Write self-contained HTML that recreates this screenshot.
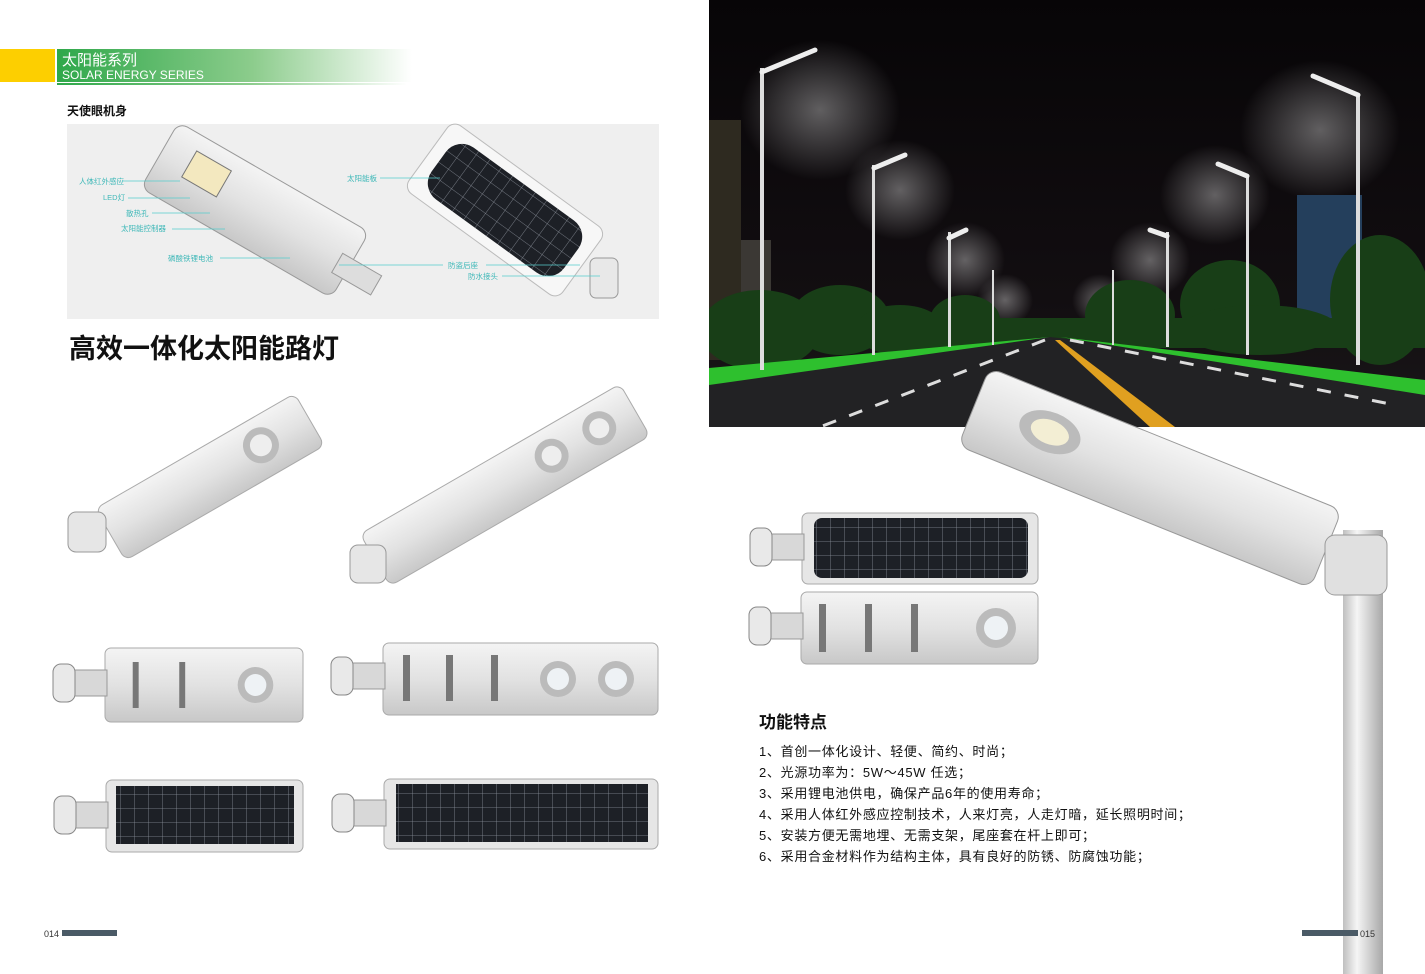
<!DOCTYPE html>
<html><head><meta charset="utf-8"><style>
html,body{margin:0;padding:0;background:#fff;}
svg{display:block;}
text{font-family:"Liberation Sans","Noto Sans CJK SC",sans-serif;}
</style></head><body>
<svg width="1425" height="974" viewBox="0 0 1425 974" xmlns="http://www.w3.org/2000/svg">
<defs>
<clipPath id="photo"><rect x="709" y="0" width="716" height="427"/></clipPath>
<linearGradient id="gh" x1="0" x2="1" y1="0" y2="0">
<stop offset="0" stop-color="#2fa84a"/><stop offset="0.55" stop-color="#8ccc8c"/><stop offset="1" stop-color="#ffffff"/></linearGradient>
<linearGradient id="body" x1="0" x2="0" y1="0" y2="1">
<stop offset="0" stop-color="#f4f4f4"/><stop offset="0.5" stop-color="#e2e2e2"/><stop offset="1" stop-color="#c8c8c8"/></linearGradient>
<linearGradient id="sky" x1="0" x2="0" y1="0" y2="1">
<stop offset="0" stop-color="#070507"/><stop offset="0.7" stop-color="#120e11"/><stop offset="1" stop-color="#1a1719"/></linearGradient>
<linearGradient id="pole" x1="0" x2="1">
<stop offset="0" stop-color="#bfbfbf"/><stop offset="0.35" stop-color="#f5f5f5"/><stop offset="1" stop-color="#a8a8a8"/></linearGradient>
<radialGradient id="glow"><stop offset="0" stop-color="#ffffff" stop-opacity="0.35"/><stop offset="1" stop-color="#ffffff" stop-opacity="0"/></radialGradient>
<pattern id="cells" width="14" height="14" patternUnits="userSpaceOnUse"><rect width="14" height="14" fill="#1d2026"/><path d="M0 0H14M0 0V14" stroke="#8a8f99" stroke-width="0.8"/></pattern>
<g id="flat">
<rect x="0" y="0" width="200" height="74" rx="6" fill="url(#body)" stroke="#aaa"/>
<rect x="28" y="14" width="6" height="46" fill="#777"/><rect x="75" y="14" width="6" height="46" fill="#777"/>
<circle cx="152" cy="37" r="18" fill="#bbb"/><circle cx="152" cy="37" r="11" fill="#eef2f5"/>
</g>
<g id="bracket"><rect x="-42" y="22" width="44" height="26" fill="#d8d8d8" stroke="#999"/><rect x="-52" y="16" width="22" height="38" rx="8" fill="#e9e9e9" stroke="#888"/></g>
</defs>

<rect x="0" y="49" width="55" height="33" fill="#fdcf00"/>
<rect x="57" y="49" width="355" height="33" fill="url(#gh)"/>
<rect x="57" y="83" width="350" height="2" fill="url(#gh)"/>
<text x="62" y="65" font-size="15" fill="#fff">太阳能系列</text>
<text x="62" y="79" font-size="12" fill="#fff">SOLAR ENERGY SERIES</text>
<text x="67" y="115" font-size="12" font-weight="bold" fill="#111">天使眼机身</text>

<rect x="67" y="124" width="592" height="195" fill="#efefef"/>
<g transform="translate(255,210) rotate(30)">
<rect x="-110" y="-38" width="220" height="76" rx="10" fill="url(#body)" stroke="#999"/>
<rect x="-80" y="-22" width="40" height="30" fill="#f3e8bf" stroke="#777"/>
</g>
<g transform="translate(355,272) rotate(30)"><rect x="-20" y="-10" width="45" height="22" fill="#ddd" stroke="#999"/></g>
<g transform="translate(505,210) rotate(36)">
<rect x="-95" y="-42" width="190" height="84" rx="10" fill="#f7f7f7" stroke="#bbb"/>
<rect x="-82" y="-32" width="164" height="64" rx="20" fill="url(#cells)"/>
</g>
<rect x="590" y="258" width="28" height="40" rx="6" fill="#e8e8e8" stroke="#999"/>
<g font-size="7.5" fill="#3fb8b8">
<text x="79" y="184">人体红外感应</text><text x="103" y="200">LED灯</text><text x="126" y="216">散热孔</text><text x="121" y="231">太阳能控制器</text><text x="168" y="261">磷酸铁锂电池</text>
<text x="347" y="181">太阳能板</text><text x="448" y="268">防盗后座</text><text x="468" y="279">防水接头</text>
</g>
<g stroke="#5cc" stroke-width="0.7">
<line x1="122" y1="181" x2="180" y2="181"/><line x1="128" y1="198" x2="190" y2="198"/><line x1="152" y1="213" x2="210" y2="213"/><line x1="172" y1="229" x2="225" y2="229"/><line x1="220" y1="258" x2="290" y2="258"/>
<line x1="380" y1="178" x2="440" y2="178"/><line x1="339" y1="265" x2="443" y2="265"/><line x1="486" y1="265" x2="580" y2="265"/><line x1="502" y1="276" x2="600" y2="276"/>
</g>

<text x="69" y="358" font-size="27" font-weight="bold" fill="#111">高效一体化太阳能路灯</text>

<g transform="translate(210,477) rotate(-30)">
<rect x="-115" y="-30" width="230" height="60" rx="8" fill="url(#body)" stroke="#aaa"/>
<circle cx="60" cy="-2" r="18" fill="#bbb"/><circle cx="60" cy="-2" r="11" fill="#eee"/>
</g>
<rect x="68" y="512" width="38" height="40" rx="8" fill="#e6e6e6" stroke="#999"/>
<g transform="translate(505,485) rotate(-30)">
<rect x="-150" y="-30" width="300" height="60" rx="8" fill="url(#body)" stroke="#aaa"/>
<circle cx="55" cy="-2" r="17" fill="#bbb"/><circle cx="55" cy="-2" r="10" fill="#eee"/>
<circle cx="110" cy="-2" r="17" fill="#bbb"/><circle cx="110" cy="-2" r="10" fill="#eee"/>
</g>
<rect x="350" y="545" width="36" height="38" rx="8" fill="#e6e6e6" stroke="#999"/>

<use href="#flat" transform="translate(105,648) scale(0.99,1)"/>
<use href="#bracket" transform="translate(105,648)"/>
<g transform="translate(383,643)">
<rect width="275" height="72" rx="6" fill="url(#body)" stroke="#aaa"/>
<rect x="20" y="12" width="7" height="46" fill="#777"/><rect x="63" y="12" width="7" height="46" fill="#777"/><rect x="108" y="12" width="7" height="46" fill="#777"/>
<circle cx="175" cy="36" r="18" fill="#bbb"/><circle cx="175" cy="36" r="11" fill="#eef2f5"/>
<circle cx="233" cy="36" r="18" fill="#bbb"/><circle cx="233" cy="36" r="11" fill="#eef2f5"/>
</g>
<use href="#bracket" transform="translate(383,641)"/>
<g transform="translate(106,780)"><rect width="197" height="72" rx="6" fill="#e6e6e6" stroke="#aaa"/><rect x="10" y="6" width="178" height="58" fill="url(#cells)"/></g>
<use href="#bracket" transform="translate(106,780)"/>
<g transform="translate(384,779)"><rect width="274" height="70" rx="6" fill="#e6e6e6" stroke="#aaa"/><rect x="12" y="5" width="252" height="58" fill="url(#cells)"/></g>
<use href="#bracket" transform="translate(384,778)"/>

<text x="44" y="937" font-size="9" fill="#333">014</text>
<rect x="62" y="930" width="55" height="6" fill="#4a5a66"/>

<g clip-path="url(#photo)">
<rect x="709" y="0" width="716" height="427" fill="url(#sky)"/>
<g fill="url(#glow)">
<ellipse cx="820" cy="110" rx="80" ry="70"/><ellipse cx="1320" cy="130" rx="80" ry="70"/>
<ellipse cx="900" cy="190" rx="55" ry="50"/><ellipse cx="1215" cy="195" rx="55" ry="50"/>
<ellipse cx="965" cy="260" rx="40" ry="38"/><ellipse cx="1150" cy="260" rx="40" ry="38"/>
<ellipse cx="1005" cy="300" rx="28" ry="26"/><ellipse cx="1100" cy="300" rx="28" ry="26"/>
</g>
<rect x="709" y="120" width="32" height="240" fill="#2e2a20"/>
<rect x="741" y="240" width="30" height="120" fill="#3b3834"/>
<rect x="1297" y="195" width="65" height="145" fill="#243f5c"/>
<g fill="#183e17">
<ellipse cx="760" cy="330" rx="60" ry="40"/><ellipse cx="840" cy="320" rx="50" ry="35"/><ellipse cx="900" cy="330" rx="45" ry="25"/>
<ellipse cx="965" cy="320" rx="35" ry="25"/><ellipse cx="1130" cy="315" rx="45" ry="35"/><ellipse cx="1230" cy="305" rx="50" ry="45"/>
<ellipse cx="1380" cy="300" rx="50" ry="65"/><ellipse cx="1260" cy="330" rx="80" ry="25"/>
<rect x="709" y="318" width="716" height="30"/>
</g>
<polygon points="709,370 1050,337 1425,380 1425,427 709,427" fill="#222224"/>
<polygon points="709,368 1050,337 709,385" fill="#2ec02e"/>
<polygon points="1425,380 1060,337 1425,395" fill="#2ec02e"/>
<polygon points="1055,340 1060,340 1175,427 1150,427" fill="#e0a020"/>
<g stroke="#ddd" stroke-width="3" stroke-dasharray="14 14">
<line x1="1045" y1="340" x2="820" y2="427"/><line x1="1070" y1="340" x2="1395" y2="405"/>
</g>
<g fill="#ddd">
<rect x="760" y="68" width="4" height="302"/><rect x="1356" y="95" width="4" height="270"/>
<rect x="872" y="165" width="3" height="190"/><rect x="1246" y="175" width="3" height="180"/>
<rect x="948" y="232" width="3" height="115"/><rect x="1166" y="232" width="3" height="115"/>
<rect x="992" y="270" width="2" height="75"/><rect x="1112" y="270" width="2" height="75"/>
</g>
<g stroke="#eee" stroke-width="5" stroke-linecap="round">
<line x1="762" y1="72" x2="815" y2="50"/><line x1="1313" y1="76" x2="1358" y2="95"/>
<line x1="874" y1="168" x2="905" y2="155"/><line x1="1218" y1="164" x2="1247" y2="176"/>
<line x1="949" y1="238" x2="966" y2="230"/><line x1="1150" y1="230" x2="1167" y2="236"/>
</g>
</g>
<g transform="translate(1150,478) rotate(22)">
<rect x="-190" y="-42" width="380" height="84" rx="12" fill="url(#body)" stroke="#999"/>
<ellipse cx="-110" cy="-5" rx="32" ry="20" fill="#bbb"/><ellipse cx="-110" cy="-5" rx="20" ry="12" fill="#f3eed4"/>
</g>
<rect x="1343" y="530" width="40" height="444" fill="url(#pole)"/>
<rect x="1325" y="535" width="62" height="60" rx="10" fill="#e0e0e0" stroke="#999"/>

<g transform="translate(802,513)"><rect width="236" height="71" rx="6" fill="#e6e6e6" stroke="#aaa"/><rect x="12" y="5" width="214" height="60" rx="8" fill="url(#cells)"/></g>
<use href="#bracket" transform="translate(802,512)"/>
<g transform="translate(801,592)"><rect width="237" height="72" rx="6" fill="url(#body)" stroke="#aaa"/>
<rect x="18" y="12" width="7" height="48" fill="#777"/><rect x="64" y="12" width="7" height="48" fill="#777"/><rect x="110" y="12" width="7" height="48" fill="#777"/>
<circle cx="195" cy="36" r="20" fill="#bbb"/><circle cx="195" cy="36" r="12" fill="#eef2f5"/></g>
<use href="#bracket" transform="translate(801,591)"/>

<text x="759" y="728" font-size="17" font-weight="bold" fill="#111">功能特点</text>
<g font-size="13" fill="#111" letter-spacing="0.7">
<text x="759" y="756">1、首创一体化设计、轻便、简约、时尚；</text>
<text x="759" y="777">2、光源功率为：5W～45W 任选；</text>
<text x="759" y="798">3、采用锂电池供电，确保产品6年的使用寿命；</text>
<text x="759" y="819">4、采用人体红外感应控制技术，人来灯亮，人走灯暗，延长照明时间；</text>
<text x="759" y="840">5、安装方便无需地埋、无需支架，尾座套在杆上即可；</text>
<text x="759" y="861">6、采用合金材料作为结构主体，具有良好的防锈、防腐蚀功能；</text>
</g>
<rect x="1302" y="930" width="56" height="6" fill="#4a5a66"/>
<text x="1360" y="937" font-size="9" fill="#333">015</text>
</svg>
</body></html>
